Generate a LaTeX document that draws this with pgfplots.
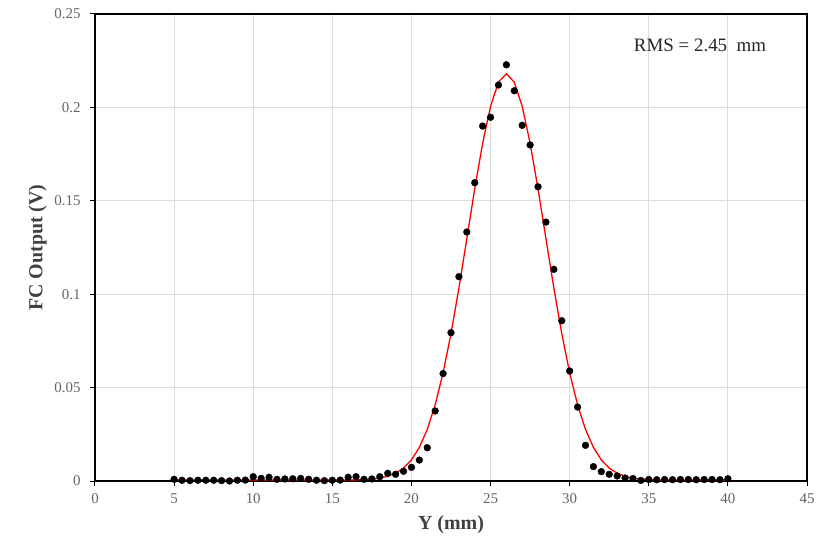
\documentclass[border=0pt]{standalone}
\usepackage{pgfplots}
\pgfplotsset{compat=1.18}
\usepackage{fontspec}
\setmainfont{Liberation Serif}
\definecolor{tickgray}{RGB}{100,100,100}
\definecolor{labelgray}{RGB}{64,64,64}
\definecolor{gridgray}{RGB}{220,220,220}
\begin{document}
\begin{tikzpicture}
\useasboundingbox (-95bp,-61bp) rectangle (736bp,481bp);
\begin{axis}[
  at={(0,0)}, anchor=south west,
  scale only axis, width=712bp, height=467bp,
  xmin=0, xmax=45, ymin=0, ymax=0.25,
  xtick={0,5,...,45},
  ytick={0,0.05,0.1,0.15,0.2,0.25},
  yticklabels={0,0.05,0.1,0.15,0.2,0.25},
  /pgf/number format/assume math mode=true,
  grid=major,
  major grid style={draw=gridgray, line width=1.2bp},
  axis line style={black, line width=1.5bp},
  tick style={black, line width=1bp},
  major tick length=5bp,
  tick align=outside,
  xtick pos=bottom, ytick pos=left,
  ticklabel style={font=\fontsize{15}{15}\selectfont, text=tickgray},
  yticklabel style={xshift=-6bp},
  xticklabel style={yshift=-4bp},
  xlabel={Y (mm)}, ylabel={FC Output (V)},
  label style={font=\fontsize{20}{20}\selectfont\bfseries, text=labelgray},
  x label style={at={(axis description cs:0.5,-0.094)}, anchor=center},
  y label style={at={(axis description cs:-0.0805,0.5)}, anchor=center},
  clip=false,
]
\addplot[red, line width=1.3bp] coordinates {
(5,0.0005) (5.5,0.0005) (6,0.0005) (6.5,0.0005) (7,0.0005) (7.5,0.0005) (8,0.0005) (8.5,0.0005) (9,0.0005) (9.5,0.0005)
(10,0.0005) (10.5,0.0005) (11,0.0005) (11.5,0.0005) (12,0.0005) (12.5,0.0005) (13,0.0005) (13.5,0.0005) (14,0.0005) (14.5,0.0005)
(15,0.0005) (15.5,0.0005) (16,0.00055) (16.5,0.0006) (17,0.0008) (17.5,0.0010) (18,0.0016) (18.5,0.0025) (19,0.0042) (19.5,0.0069)
(20,0.0113) (20.5,0.0180) (21,0.0276) (21.5,0.0408) (22,0.0579) (22.5,0.0789) (23,0.1033) (23.5,0.1297) (24,0.1564) (24.5,0.1808)
(25,0.2006) (25.5,0.2135) (26,0.2180) (26.5,0.2135) (27,0.2006) (27.5,0.1808) (28,0.1564) (28.5,0.1297) (29,0.1033) (29.5,0.0789)
(30,0.0579) (30.5,0.0408) (31,0.0276) (31.5,0.0180) (32,0.0113) (32.5,0.0069) (33,0.0042) (33.5,0.0025) (34,0.0016) (34.5,0.0010)
(35,0.0008) (35.5,0.0006) (36,0.00055) (36.5,0.0005) (37,0.0005) (37.5,0.0005) (38,0.0005) (38.5,0.0005) (39,0.0005) (39.5,0.0005) (40,0.0005)
};
\addplot[only marks, mark=*, mark size=3.4bp, black] coordinates {
(5,0.0009) (5.5,0.0004) (6,0.0002) (6.5,0.0004) (7,0.0004) (7.5,0.0004) (8,0.0002) (8.5,0.0000) (9,0.0004) (9.5,0.0005)
(10,0.0023) (10.5,0.0014) (11,0.0020) (11.5,0.0009) (12,0.0011) (12.5,0.0012) (13,0.0014) (13.5,0.0009) (14,0.0004) (14.5,0.0002)
(15,0.0004) (15.5,0.0005) (16,0.0020) (16.5,0.0023) (17,0.0009) (17.5,0.0011) (18,0.0023) (18.5,0.0041) (19,0.0036) (19.5,0.0052)
(20,0.0073) (20.5,0.0112) (21,0.0178) (21.5,0.0375) (22,0.0575) (22.5,0.0794) (23,0.1094) (23.5,0.1333) (24,0.1597) (24.5,0.1900)
(25,0.1947) (25.5,0.2120) (26,0.2228) (26.5,0.2089) (27,0.1904) (27.5,0.1799) (28,0.1575) (28.5,0.1386) (29,0.1133) (29.5,0.0858)
(30,0.0589) (30.5,0.0396) (31,0.0191) (31.5,0.0077) (32,0.0050) (32.5,0.0036) (33,0.0027) (33.5,0.0016) (34,0.0013) (34.5,0.0003)
(35,0.0008) (35.5,0.0007) (36,0.0008) (36.5,0.0007) (37,0.0008) (37.5,0.0008) (38,0.0007) (38.5,0.0008) (39,0.0008) (39.5,0.0007) (40,0.0012)
};
\node[font=\fontsize{19}{19}\selectfont, text=black!85, anchor=center] at (axis cs:38.24,0.2334) {RMS = 2.45\ \ mm};
\end{axis}
\end{tikzpicture}
\end{document}
